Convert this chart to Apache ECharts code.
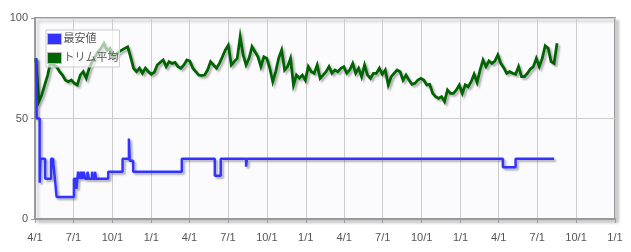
<!DOCTYPE html>
<html>
<head>
<meta charset="utf-8">
<script src="https://cdn.jsdelivr.net/npm/echarts@6/dist/echarts.min.js"></script>
<style>
html,body{margin:0;padding:0;background:#fff;}
#chart{width:631px;height:252px;}
</style>
</head>
<body>
<div id="chart"></div>
<script>
// ---- data ----
var seriesNames = ['最安値', 'トリム平均'];
var axisStart = '2010-04-01';
var axisEnd = '2014-01-01';
var yTicks = [0, 50, 100];

// lowest price (step changes): date, value
var lowDates = ['2010-04-04','2010-04-05','2010-04-12','2010-04-14','2010-04-25','2010-05-09','2010-05-14','2010-05-18','2010-05-22',
  '2010-07-02','2010-07-08','2010-07-10','2010-07-12','2010-07-16','2010-07-19','2010-07-22','2010-07-25','2010-07-29','2010-08-03',
  '2010-08-06','2010-08-14','2010-08-16','2010-08-21','2010-08-23','2010-09-21','2010-10-25','2010-11-09','2010-11-11','2010-11-19',
  '2011-03-14','2011-05-31','2011-06-14','2011-08-13','2011-08-15','2013-04-11','2013-05-11','2013-08-10'];
var lowValues = [80,50,18,30,20,30,28,20,11,
  20,15,20,23.5,20,23.5,20,23.5,20,23.5,
  20,23.5,20,23.5,20,23.5,30,40,29,23.5,
  30,21.5,30,26,30,25.7,30,30];

// trimmed mean, weekly readings starting at trimStart
var trimStart = '2010-04-03';
var trimStepDays = 7;
var trimValues = [
  80,58.4,61.7,66.7,71.6,78.3,76.6,75.8,73.3,71.6,
  69.1,68.3,69.1,67.5,66.7,71.6,73.3,70,75,78.3,
  80.7,83.2,84.9,87.4,84,84.9,80.7,81.6,83.2,84,
  84.9,85.7,80.7,75,73.3,75,72.5,75,73.3,72,
  73,76.6,77.9,79.1,75.8,78.3,77.4,77.9,75.8,75,
  76.6,79.1,78.6,75,73.3,71.6,71.3,71.6,74.1,78.3,
  76.6,75,77.4,80.7,84.1,86.5,76.6,78.3,79.9,90.7,
  81.6,76.6,79.9,85.7,83.2,80.7,75.8,80.7,79.9,75,
  68.3,73.3,80,84,74.1,75.8,79.9,66.7,71.6,70,
  71.6,69.1,75.8,73.3,72.5,76.6,70,71.6,73.3,75.8,
  72.5,74.1,73.3,75,75.8,72.5,74.1,77.4,72.5,75,
  70.8,76.6,71.6,70,72.5,72.5,75,72,74.1,66.7,
  70.8,72.5,74.1,73.3,69.1,71.6,69.1,67,67.5,69.1,
  70,69.1,66.7,67,62.5,60.9,60,60.9,58.4,64.2,
  62.5,62.5,64.2,66.7,62.5,66.7,65.8,68.3,72,68,
  74.1,79.1,75.8,78.6,77.4,78.6,81.6,77.4,75.3,72.5,
  73.3,72.5,72,75.8,70.8,70.8,72.5,74.6,75.8,79.9,
  75.8,79.9,86.2,84.9,78.3,77.4,87.4
];

// ---- build ----
function utc(s){ var p = s.split('-'); return Date.UTC(+p[0], +p[1]-1, +p[2]); }
var DAY = 86400000;
var lowData = lowDates.map(function(d, i){ return [utc(d), lowValues[i]]; });
var t0 = utc(trimStart);
var trimData = trimValues.map(function(v, i){ return [t0 + i * trimStepDays * DAY, v]; });

var font = "'Liberation Sans', Arial, 'Noto Sans CJK JP', sans-serif";
var chart = echarts.init(document.getElementById('chart'), null, {renderer: 'canvas'});
chart.setOption({
  animation: false,
  useUTC: true,
  backgroundColor: '#ffffff',
  textStyle: {fontFamily: font},
  grid: {
    left: 35, right: 16, top: 18, bottom: 33,
    show: true,
    backgroundColor: '#fbfbfe',
    borderColor: '#999999',
    borderWidth: 2,
    shadowColor: 'rgba(0,0,0,0.18)',
    shadowBlur: 3,
    shadowOffsetX: 3,
    shadowOffsetY: 3
  },
  legend: {
    left: 46, top: 30,
    orient: 'vertical',
    icon: 'rect',
    itemWidth: 14, itemHeight: 11,
    itemGap: 7,
    padding: [3, 1, 3, 1],
    backgroundColor: 'rgba(255,255,255,0.65)',
    borderColor: '#cccccc',
    borderWidth: 1,
    textStyle: {color: '#555555', fontSize: 11, fontFamily: font, padding: [0, 0, 0, -3]},
    itemStyle: {borderColor: '#bbbbbb', borderWidth: 1, shadowBlur: 0, shadowOffsetX: 0, shadowOffsetY: 0},
    data: seriesNames
  },
  xAxis: {
    type: 'time',
    min: utc(axisStart),
    max: utc(axisEnd),
    minInterval: 91 * DAY,
    maxInterval: 91 * DAY,
    axisLine: {show: true, lineStyle: {color: '#999999', width: 2}},
    axisTick: {show: true, length: 4, lineStyle: {color: '#999999'}},
    splitLine: {show: true, lineStyle: {color: '#cccccc', width: 1}},
    axisLabel: {
      color: '#555555', fontSize: 11, margin: 13, fontFamily: font,
      showMinLabel: true, showMaxLabel: true, hideOverlap: false,
      formatter: function(v){ var d = new Date(v); return (d.getUTCMonth()+1) + '/' + d.getUTCDate(); }
    }
  },
  yAxis: {
    type: 'value',
    min: yTicks[0], max: yTicks[yTicks.length-1], interval: yTicks[1] - yTicks[0],
    axisLine: {show: true, lineStyle: {color: '#999999', width: 2}},
    axisTick: {show: true, length: 4, lineStyle: {color: '#999999'}},
    splitLine: {show: true, lineStyle: {color: '#cccccc', width: 1}},
    axisLabel: {color: '#555555', fontSize: 11, margin: 7, fontFamily: font}
  },
  series: [
    {
      name: seriesNames[0],
      type: 'line',
      step: 'end',
      data: lowData,
      showSymbol: false,
      color: '#3333ff',
      lineStyle: {width: 2.5, color: '#3333ff', shadowColor: 'rgba(0,0,0,0.3)', shadowBlur: 2, shadowOffsetX: 2, shadowOffsetY: 2},
      z: 3
    },
    {
      name: seriesNames[1],
      type: 'line',
      data: trimData,
      showSymbol: false,
      color: '#006400',
      lineStyle: {width: 2.8, color: '#006400', join: 'miter', shadowColor: 'rgba(0,0,0,0.3)', shadowBlur: 2, shadowOffsetX: 2, shadowOffsetY: 2},
      z: 2
    }
  ]
});
</script>
</body>
</html>
